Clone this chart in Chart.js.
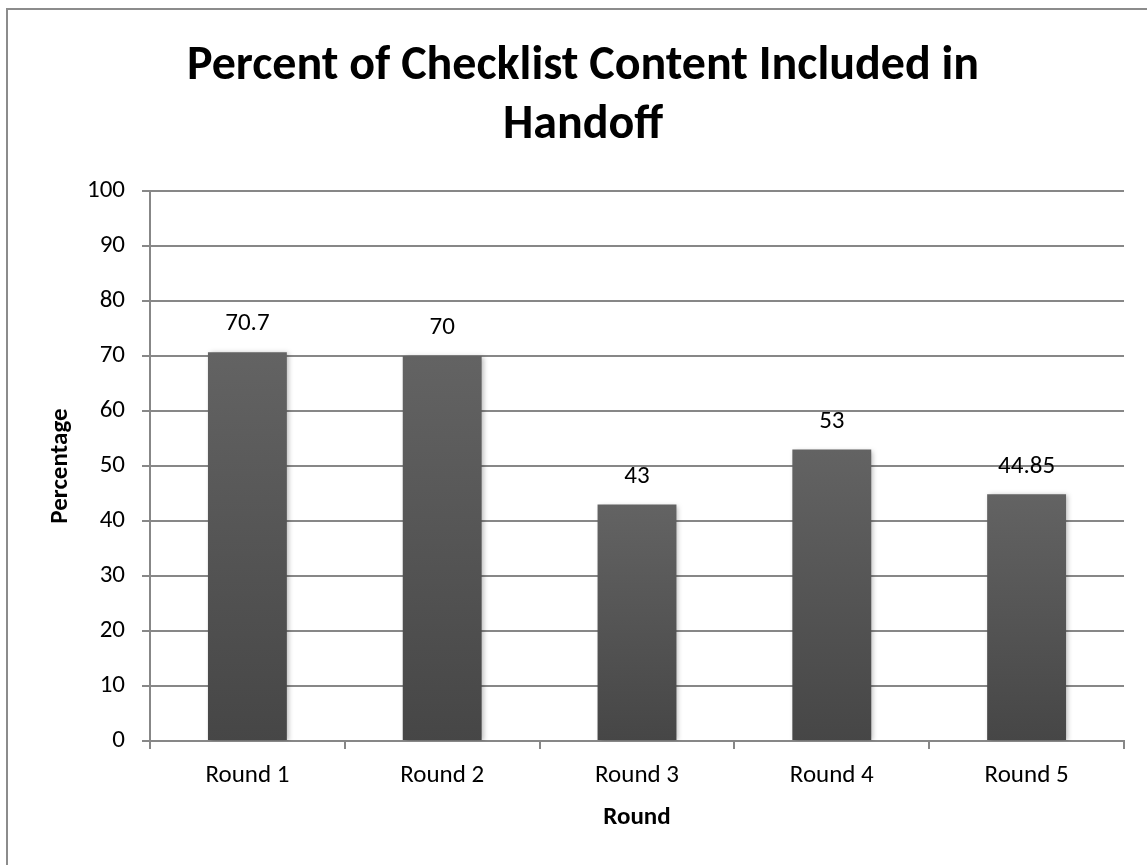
<!DOCTYPE html>
<html>
<head>
<meta charset="utf-8">
<script src="https://cdn.jsdelivr.net/npm/chart.js@4/dist/chart.umd.min.js"></script>
<style>
  html, body { margin: 0; padding: 0; background: #fff; }
  #wrap { position: relative; width: 1147px; height: 865px; overflow: hidden; }
  #frame { position: absolute; left: 6px; top: 8px; width: 1200px; height: 900px;
           border-left: 2px solid #8c8c8c; border-top: 2px solid #8c8c8c; }
  #grafico { position: absolute; left: 0; top: 0; }
</style>
</head>
<body>
<div id="wrap">
  <div id="frame"></div>
  <canvas id="grafico" width="1147" height="865"></canvas>
</div>
<script>
// dados do grafico
const rodadas = ['Round 1', 'Round 2', 'Round 3', 'Round 4', 'Round 5'];
const percentuais = [70.7, 70, 43, 53, 44.85];
const rotulos = ['70.7', '70', '43', '53', '44.85'];
const ticksY = [0, 10, 20, 30, 40, 50, 60, 70, 80, 90, 100];

const fonte = 'Carlito, Calibri, Lato, sans-serif';
const cinza = '#878787';

// gradiente de cada barra (claro em cima, escuro embaixo)
function corBarra(ctx) {
    let chart = ctx.chart;
    if (!chart.chartArea || !chart.scales.y) return '#555555';
    let topo = chart.scales.y.getPixelForValue(ctx.raw);
    let base = chart.scales.y.getPixelForValue(0);
    let g = chart.ctx.createLinearGradient(0, topo, 0, base);
    g.addColorStop(0, '#636363');
    g.addColorStop(1, '#464646');
    return g;
}

const sombra = {
    id: 'sombra',
    beforeDatasetsDraw(chart) {
        let c = chart.ctx;
        c.save();
        c.shadowColor = 'rgba(0,0,0,0.28)';
        c.shadowBlur = 5;
        c.shadowOffsetX = 2;
        c.shadowOffsetY = 1;
    },
    afterDatasetsDraw(chart) {
        chart.ctx.restore();
    }
};

const valores = {
    id: 'valores',
    afterDatasetsDraw(chart) {
        let c = chart.ctx;
        let meta = chart.getDatasetMeta(0);
        c.save();
        c.font = '25px ' + fonte;
        c.fillStyle = '#000';
        c.textAlign = 'center';
        c.textBaseline = 'middle';
        meta.data.forEach(function (barra, i) {
            c.fillText(rotulos[i], barra.x, barra.y - 28);
        });
        c.restore();
    }
};

let context = document.getElementById('grafico').getContext('2d');

let grafico = new Chart(context, {
    type: 'bar',
    data: {
        labels: rodadas,
        datasets: [{
            label: 'Percentage',
            data: percentuais,
            backgroundColor: corBarra,
            borderWidth: 0,
            barPercentage: 0.405,
            categoryPercentage: 1
        }]
    },
    options: {
        responsive: false,
        animation: false,
        devicePixelRatio: 1,
        layout: { padding: { left: 42, right: 23, top: 0, bottom: 0 } },
        plugins: {
            legend: { display: false },
            tooltip: { enabled: false },
            title: {
                display: true,
                text: ['Percent of Checklist Content Included in', 'Handoff'],
                color: '#000',
                font: { family: fonte, size: 48, weight: 'bold', lineHeight: 1.23 },
                padding: { top: 37, bottom: 36 }
            }
        },
        scales: {
            x: {
                offset: true,
                grid: {
                    offset: true,
                    drawOnChartArea: false,
                    drawTicks: true,
                    tickLength: 8,
                    color: cinza,
                    lineWidth: 2
                },
                border: { color: cinza, width: 2 },
                ticks: { color: '#000', font: { family: fonte, size: 25 }, padding: 12 },
                title: {
                    display: true,
                    text: 'Round',
                    color: '#000',
                    font: { family: fonte, size: 25, weight: 'bold', lineHeight: 1.2 },
                    padding: { top: 0, bottom: 32 }
                },
                afterFit(scale) { scale.height = 124; }
            },
            y: {
                min: 0,
                max: 100,
                afterBuildTicks(scale) {
                    scale.ticks = ticksY.map(function (v) { return { value: v }; });
                },
                grid: { color: cinza, lineWidth: 2, tickLength: 8 },
                border: { color: cinza, width: 2 },
                ticks: { color: '#000', font: { family: fonte, size: 25 }, padding: 17 },
                title: {
                    display: true,
                    text: 'Percentage',
                    color: '#000',
                    font: { family: fonte, size: 25, weight: 'bold', lineHeight: 1.2 },
                    padding: { top: 4, bottom: 0 }
                },
                afterFit(scale) { scale.width = 108; }
            }
        }
    },
    plugins: [sombra, valores]
});
</script>
</body>
</html>
